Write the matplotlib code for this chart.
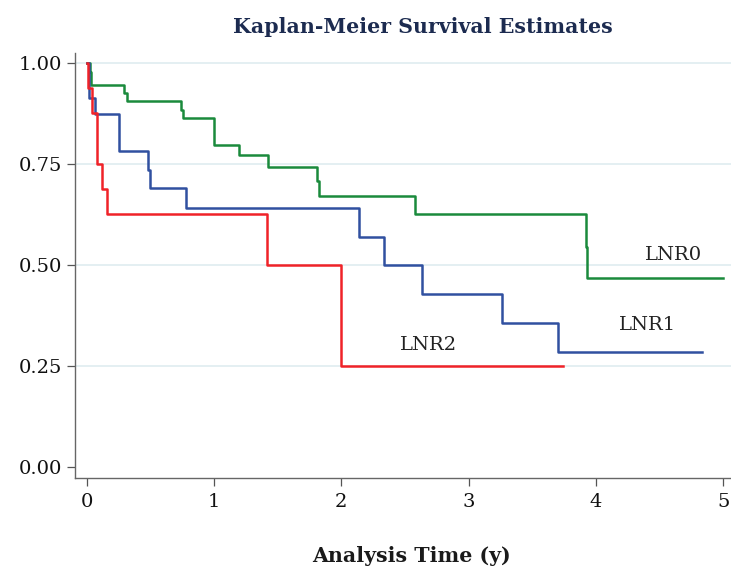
import matplotlib
matplotlib.use("Agg")
import matplotlib.pyplot as plt
from matplotlib.ticker import FormatStrFormatter

# step times (years) and survival estimates
lnr0_t = [0, 0.026, 0.037, 0.295, 0.314, 0.741, 0.754, 1.0, 1.196, 1.422,
          1.807, 1.827, 2.579, 3.92, 3.932]
lnr0_s = [1.0, 0.978, 0.945, 0.926, 0.905, 0.883, 0.863, 0.796, 0.771, 0.743,
          0.707, 0.671, 0.625, 0.545, 0.468]
lnr0_end = 5.0

lnr1_t = [0, 0.015, 0.068, 0.251, 0.484, 0.497, 0.780, 2.142, 2.333, 2.634,
          3.26, 3.70]
lnr1_s = [1.0, 0.913, 0.872, 0.781, 0.734, 0.690, 0.640, 0.568, 0.498, 0.427,
          0.356, 0.285]
lnr1_end = 4.831

lnr2_t = [0, 0.013, 0.039, 0.079, 0.12, 0.162, 1.416, 2.0]
lnr2_s = [1.0, 0.937, 0.875, 0.75, 0.6875, 0.625, 0.5, 0.25]
lnr2_end = 3.739

x_ticks = [0, 1, 2, 3, 4, 5]
y_ticks = [0.0, 0.25, 0.5, 0.75, 1.0]

plt.rcParams["font.family"] = ["DejaVu Serif"]

fig = plt.figure(figsize=(7.31, 5.70), dpi=100)
ax = fig.add_axes([75 / 731, 1 - 478.3 / 570, 1 - 75 / 731, (478.3 - 52.7) / 570])

for y in y_ticks[1:]:
    ax.axhline(y, color="#e4eff2", lw=1.4, zorder=0)

curves = [
    (lnr0_t, lnr0_s, lnr0_end, "#1a8a3c"),
    (lnr1_t, lnr1_s, lnr1_end, "#3050a0"),
    (lnr2_t, lnr2_s, lnr2_end, "#f02228"),
]
for t, s, end, col in curves:
    ax.step(t + [end], s + [s[-1]], where="post", color=col, lw=1.8, zorder=2)

ax.text(4.386, 0.524, "LNR0", fontsize=14, ha="left", va="center", color="#222222")
ax.text(4.181, 0.351, "LNR1", fontsize=14, ha="left", va="center", color="#222222")
ax.text(2.461, 0.301, "LNR2", fontsize=14, ha="left", va="center", color="#222222")

ax.set_xlim(-0.092, 5.061)
ax.set_ylim(-0.029, 1.025)
ax.set_xticks(x_ticks)
ax.set_yticks(y_ticks)
ax.yaxis.set_major_formatter(FormatStrFormatter("%.2f"))
ax.tick_params(axis="both", length=5.5, width=0.9, color="#555555",
               labelsize=14, labelcolor="#111111")
ax.tick_params(axis="y", pad=4)
ax.tick_params(axis="x", pad=5)

for side in ["top", "right"]:
    ax.spines[side].set_visible(False)
for side in ["left", "bottom"]:
    ax.spines[side].set_color("#666666")
    ax.spines[side].set_linewidth(1.0)

fig.text(422.5 / 731, 1 - 27 / 570, "Kaplan-Meier Survival Estimates",
         fontsize=14.8, fontweight="bold", color="#1c2b50", ha="center", va="center")
fig.text(411 / 731, 1 - 556 / 570, "Analysis Time (y)",
         fontsize=14.8, fontweight="bold", color="#1a1a1a", ha="center", va="center")

fig.savefig("out.png", dpi=100)
